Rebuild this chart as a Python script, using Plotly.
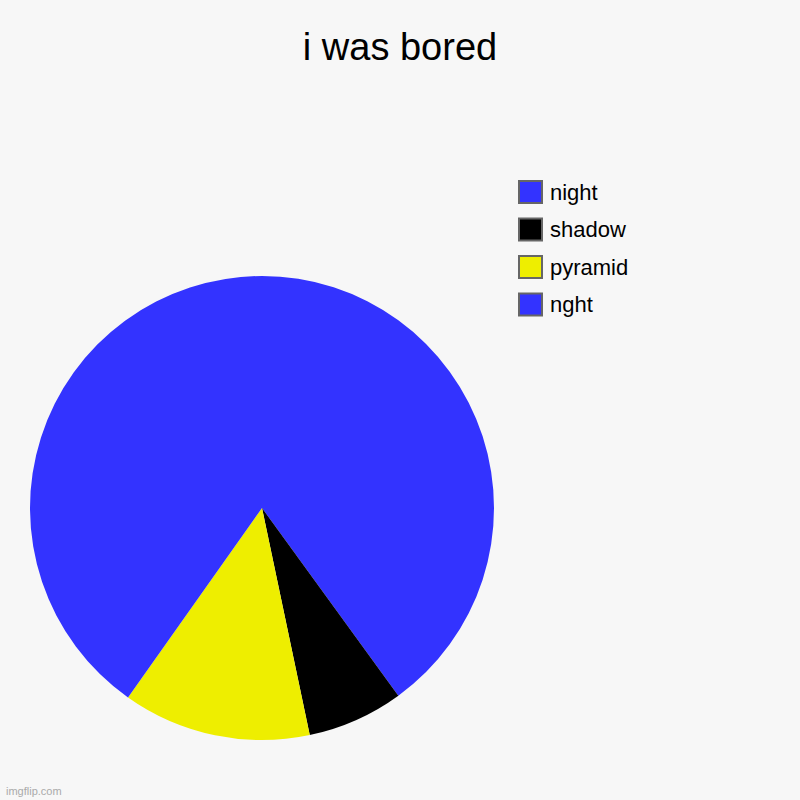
import plotly.graph_objects as go

# slice order clockwise from 12 o'clock
labels = ["night", "shadow", "pyramid", "nght"]
values = [40, 6.7, 13.1, 40.2]
colors = ["#3333ff", "#000000", "#eeee00", "#3333ff"]

fig = go.Figure()
fig.add_trace(go.Pie(
    labels=labels,
    values=values,
    marker=dict(colors=colors, line=dict(width=0)),
    sort=False,
    direction="clockwise",
    rotation=0,
    textinfo="none",
    hoverinfo="label+percent",
    showlegend=False,
    domain=dict(x=[30 / 800, 494 / 800], y=[60 / 800, 524 / 800]),
))

# hand-drawn legend: grey-bordered squares + labels
shapes = []
annotations = []
for i, (lab, col) in enumerate(zip(labels, colors)):
    yc = 192 + i * 37.5
    shapes.append(dict(type="rect", xref="paper", yref="paper",
                       x0=519 / 800, x1=542 / 800,
                       y0=1 - (yc + 11) / 800, y1=1 - (yc - 11) / 800,
                       fillcolor=col, line=dict(color="#666666", width=2)))
    annotations.append(dict(text=lab, x=548 / 800, y=1 - yc / 800,
                            xref="paper", yref="paper", xanchor="left",
                            yanchor="middle", showarrow=False,
                            font=dict(size=22, color="#000000")))

annotations.append(dict(text="imgflip.com", x=4 / 800, y=1 - 791 / 800,
                        xref="paper", yref="paper", xanchor="left",
                        yanchor="middle", showarrow=False,
                        font=dict(size=11, color="#aaaaaa")))

fig.update_layout(
    width=800,
    height=800,
    paper_bgcolor="#f7f7f7",
    plot_bgcolor="#f7f7f7",
    margin=dict(l=0, r=0, t=0, b=0),
    font=dict(family="Liberation Sans, Arial, sans-serif", color="#000000"),
    title=dict(text="i was bored", x=0.5, xanchor="center", y=1 - 47 / 800,
               yanchor="middle", font=dict(size=38)),
    showlegend=False,
    shapes=shapes,
    annotations=annotations,
)

fig.write_html("out.html", config={"displayModeBar": False},
               post_script="document.body.style.margin='0';")
